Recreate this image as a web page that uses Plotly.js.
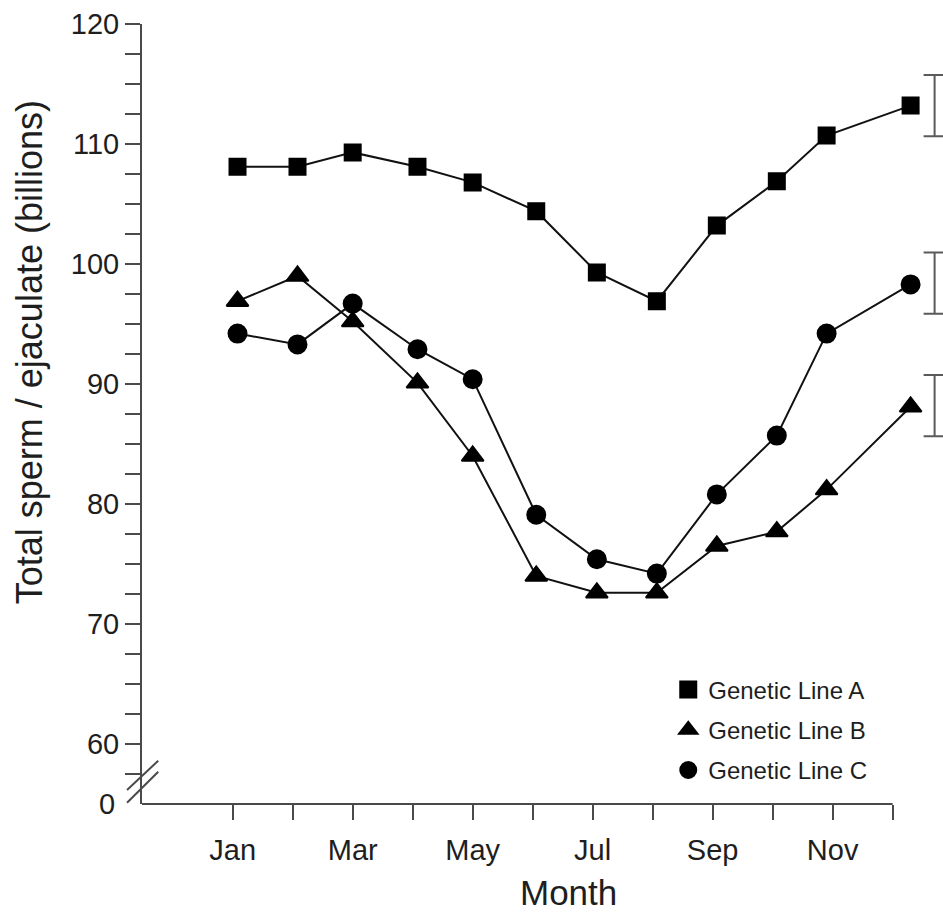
<!DOCTYPE html>
<html>
<head>
<meta charset="utf-8">
<script src="https://cdn.plot.ly/plotly-3.0.1.min.js"></script>
<style>
  html, body { margin: 0; padding: 0; background: #ffffff; }
  #chart { width: 943px; height: 916px; }
</style>
</head>
<body>
<div id="chart"></div>
<script>
// ---- data ----
const monthTicks = [1, 2, 3, 4, 5, 6, 7, 8, 9, 10, 11, 12];
const monthTickText = ['Jan', '', 'Mar', '', 'May', '', 'Jul', '', 'Sep', '', 'Nov', ''];
// horizontal positions of the plotted points (in month units, as drawn)
const pointMonth = [1.08, 2.08, 3.0, 4.08, 5.0, 6.06, 7.07, 8.07, 9.07, 10.07, 10.9, 12.3];

const lineA = [108.1, 108.1, 109.3, 108.1, 106.8, 104.4, 99.3, 96.9, 103.2, 106.9, 110.7, 113.2];
const lineB = [96.9, 99.0, 95.2, 90.1, 84.0, 74.0, 72.6, 72.6, 76.5, 77.7, 81.2, 88.1];
const lineC = [94.2, 93.3, 96.7, 92.9, 90.4, 79.1, 75.4, 74.2, 80.8, 85.7, 94.2, 98.3];

const seriesNames = ['Genetic Line A', 'Genetic Line B', 'Genetic Line C'];

// standard-error brackets drawn right of the last month
const seMonth = [12.7, 12.7, 12.7];
const seCenter = [113.2, 98.4, 88.2];
const seHalf = [2.55, 2.55, 2.55];

const yTickVals = [57.5, 60, 62.5, 65, 67.5, 70, 72.5, 75, 77.5, 80, 82.5, 85, 87.5, 90, 92.5, 95,
                   97.5, 100, 102.5, 105, 107.5, 110, 112.5, 115, 117.5, 120];
const yTickText = ['', '60', '', '', '', '70', '', '', '', '80', '', '', '', '90', '', '',
                   '', '100', '', '', '', '110', '', '', '', '120'];
const yBreakLabel = '0';

// axis extents
const xStart = -0.512, xAxisEnd = 12, xViewEnd = 12.84;
const yBottom = 55, yTop = 120;

// ---- styling ----
const FONT = 'Liberation Sans, Arial, Helvetica, sans-serif';
const TXT = '#1e1e1e';
const AX = '#4a4a4a';

const symbols = ['square', 'triangle-up', 'circle'];
const sizes = [16, 19, 18];
const seriesY = [lineA, lineB, lineC];

const traces = [];
for (let i = 0; i < 3; i++) {
  traces.push({
    type: 'scatter', mode: 'lines+markers',
    x: pointMonth, y: seriesY[i],
    name: seriesNames[i], showlegend: false,
    line: { color: '#111111', width: 2 },
    marker: { symbol: symbols[i], size: sizes[i], color: '#000000',
              line: { color: '#000000', width: 2 } },
    cliponaxis: false, hoverinfo: 'skip'
  });
}
// legend-only entries (markers without line)
for (let i = 0; i < 3; i++) {
  traces.push({
    type: 'scatter', mode: 'markers',
    x: [null], y: [null],
    name: seriesNames[i], legendgroup: 'g' + i, showlegend: true,
    marker: { symbol: symbols[i], size: 16, color: '#000000',
              line: { color: '#000000', width: 2 } },
    hoverinfo: 'skip'
  });
}
// SE brackets
traces.push({
  type: 'scatter', mode: 'markers',
  x: seMonth, y: seCenter, showlegend: false,
  marker: { size: 1, color: 'rgba(0,0,0,0)' },
  error_y: { type: 'data', array: seHalf, visible: true, color: '#5a5a5a', thickness: 2, width: 11 },
  cliponaxis: false, hoverinfo: 'skip'
});

const layout = {
  width: 943, height: 916,
  margin: { l: 142, r: 0, t: 24, b: 112 },
  paper_bgcolor: '#ffffff', plot_bgcolor: '#ffffff',
  font: { family: FONT, color: TXT },
  showlegend: true,
  legend: {
    x: 0.657, y: 0.175, xanchor: 'left', yanchor: 'top',
    bgcolor: 'rgba(0,0,0,0)', borderwidth: 0,
    font: { family: FONT, size: 24, color: TXT },
    traceorder: 'grouped', tracegroupgap: 6
  },
  xaxis: {
    range: [xStart, xViewEnd],
    tickmode: 'array', tickvals: monthTicks, ticktext: monthTickText,
    ticks: 'outside', ticklen: 15, tickwidth: 2, tickcolor: AX,
    ticklabelstandoff: 5,
    showline: false,
    showgrid: false, zeroline: false,
    tickfont: { family: FONT, size: 29, color: TXT }
  },
  yaxis: {
    range: [yBottom, yTop],
    tickmode: 'array', tickvals: yTickVals, ticktext: yTickText,
    ticks: 'outside', ticklen: 15, tickwidth: 2, tickcolor: AX,
    showline: true, linecolor: AX, linewidth: 2,
    showgrid: false, zeroline: false,
    tickfont: { family: FONT, size: 29, color: TXT }
  },
  annotations: [
    { text: yBreakLabel, xref: 'paper', yref: 'y', x: 0, y: yBottom, xanchor: 'right', yanchor: 'middle',
      xshift: -25, showarrow: false, font: { family: FONT, size: 29, color: TXT } },
    { text: 'Month', xref: 'paper', yref: 'paper', x: 0.533, y: -0.114, xanchor: 'center', yanchor: 'middle',
      showarrow: false, font: { family: FONT, size: 35, color: TXT } },
    { text: 'Total sperm / ejaculate (billions)', xref: 'paper', yref: 'paper', x: -0.14, y: 0.579,
      xanchor: 'center', yanchor: 'middle', textangle: -90,
      showarrow: false, font: { family: FONT, size: 36, color: TXT } }
  ],
  shapes: [
    // x-axis line ending at the last month tick
    { type: 'line', xref: 'x', yref: 'paper', x0: xStart, x1: xAxisEnd, y0: 0, y1: 0,
      line: { color: AX, width: 2 } },
    // axis-break marks
    { type: 'line', xref: 'paper', yref: 'y', x0: -0.0187, x1: 0.0203, y0: 56.17, y1: 58.61,
      line: { color: AX, width: 2 } },
    { type: 'line', xref: 'paper', yref: 'y', x0: -0.0187, x1: 0.0203, y0: 55.11, y1: 57.69,
      line: { color: AX, width: 2 } }
  ]
};

Plotly.newPlot('chart', traces, layout, { displayModeBar: false, staticPlot: true });
</script>
</body>
</html>
